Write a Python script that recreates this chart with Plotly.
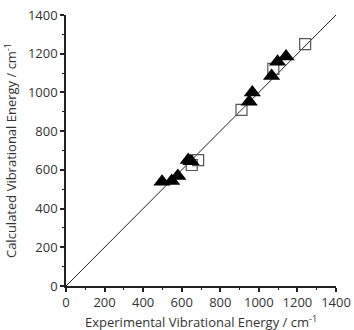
import plotly.graph_objects as go

sq_x = [1240, 1075, 910, 685, 652]
sq_y = [1250, 1122, 910, 650, 625]
tri_x = [498, 548, 580, 634, 648, 950, 966, 1066, 1097, 1141]
tri_y = [538, 543, 568, 651, 645, 952, 999, 1085, 1159, 1185]
line_x = [0, 1400]
line_y = [0, 1400]
ticks = [0, 200, 400, 600, 800, 1000, 1200, 1400]

fig = go.Figure()
fig.add_trace(go.Scatter(x=line_x, y=line_y, mode="lines",
                         line=dict(color="#222222", width=1), showlegend=False))
fig.add_trace(go.Scatter(x=sq_x, y=sq_y, mode="markers",
                         marker=dict(symbol="square-open", size=11, color="#555555",
                                     line=dict(width=1.2)), showlegend=False))
fig.add_trace(go.Scatter(x=tri_x, y=tri_y, mode="markers",
                         marker=dict(symbol="triangle-up", size=15, color="#000000"),
                         showlegend=False))

axis_common = dict(
    range=[0, 1400], tickvals=ticks, showgrid=False, zeroline=False,
    showline=True, linecolor="#222222", linewidth=1.5,
    ticks="outside", ticklen=4, tickwidth=1.5, tickcolor="#222222",
    minor=dict(dtick=100, ticks="outside", ticklen=2.5, tickwidth=1.2, tickcolor="#222222"),
    tickfont=dict(family="Open Sans", size=13, color="#333333"),
)

fig.update_layout(
    width=354, height=330,
    margin=dict(l=66, r=18, t=15, b=44),
    paper_bgcolor="white", plot_bgcolor="white",
    xaxis=dict(**axis_common),
    yaxis=dict(**axis_common,
               title=dict(text="Calculated Vibrational Energy / cm<sup>-1</sup>",
                          font=dict(family="Open Sans", size=13, color="#333333"),
                          standoff=8)),
)
fig.add_annotation(text="Experimental Vibrational Energy / cm<sup>-1</sup>",
                   xref="paper", yref="paper", x=0.5, y=-0.131,
                   xanchor="center", yanchor="middle", showarrow=False,
                   font=dict(family="Open Sans", size=13, color="#333333"))
fig.update_xaxes(automargin=False)
fig.update_yaxes(automargin=False)

fig.write_html("out.html")
